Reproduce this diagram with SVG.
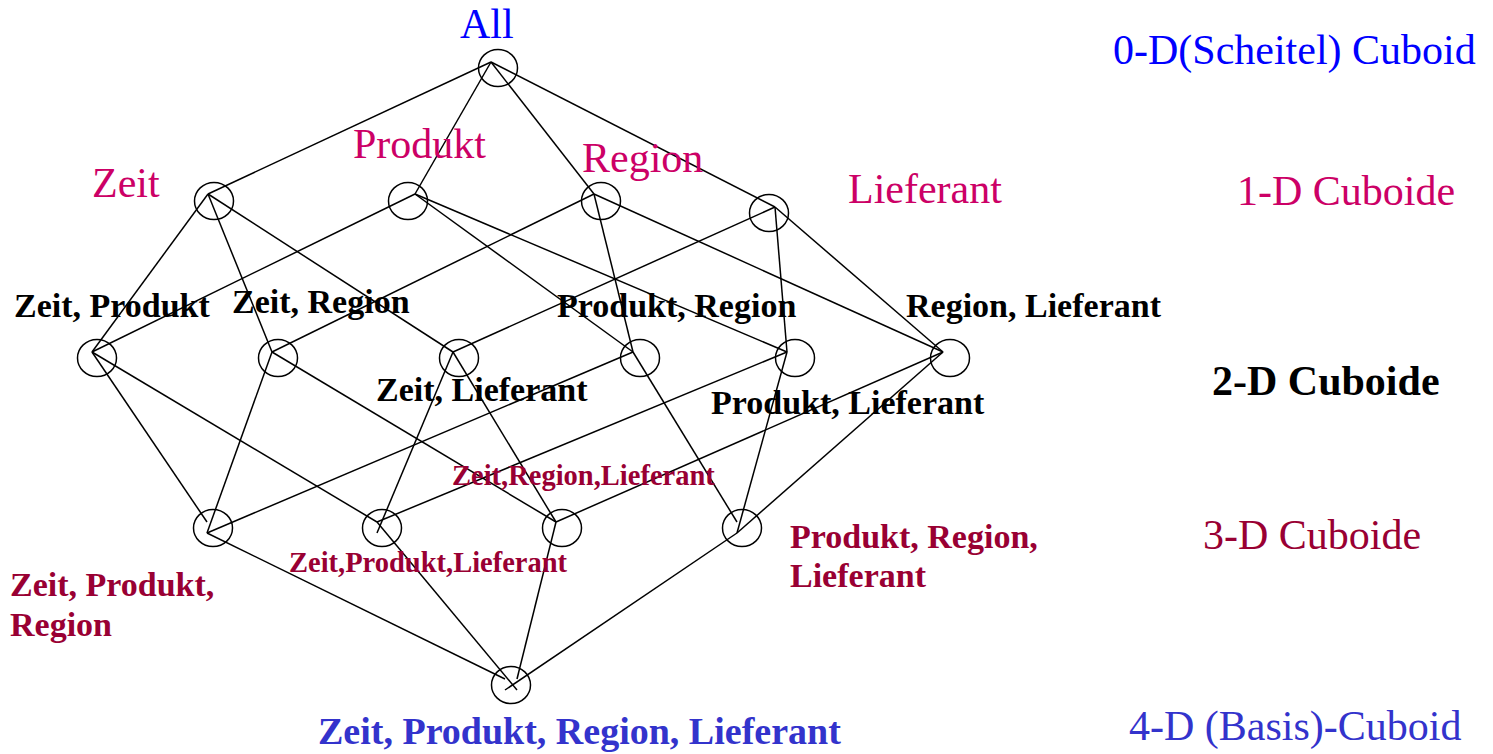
<svg xmlns="http://www.w3.org/2000/svg" width="1493" height="754" viewBox="0 0 1493 754">
<style>
  .c { fill: none; stroke: #000; stroke-width: 1.5; }
  .e line { stroke: #000; stroke-width: 1.5; }
  text { font-family: "Liberation Serif", "Times New Roman", serif; }
  .t1 { font-size: 42px; fill: #CC0066; }
  .t2 { font-size: 34px; font-weight: bold; fill: #000; }
  .t3 { font-size: 28.5px; font-weight: bold; fill: #990033; }
  .t3b { font-size: 34px; font-weight: bold; fill: #990033; }
  .lv { font-size: 42px; }
</style>
<rect width="1493" height="754" fill="#fff"/>
<g id="connectors" class="e">
  <!-- All to 1-D -->
  <line x1="491" y1="62" x2="208" y2="194"/>
  <line x1="491" y1="62" x2="415" y2="194"/>
  <line x1="491" y1="62" x2="594" y2="194"/>
  <line x1="491" y1="62" x2="775" y2="207"/>
  <!-- 1-D to 2-D -->
  <line x1="208" y1="194" x2="92" y2="352"/>
  <line x1="208" y1="194" x2="272" y2="352"/>
  <line x1="208" y1="194" x2="453" y2="352"/>
  <line x1="415" y1="194" x2="92" y2="352"/>
  <line x1="415" y1="194" x2="633" y2="352"/>
  <line x1="415" y1="194" x2="787" y2="352"/>
  <line x1="594" y1="194" x2="272" y2="352"/>
  <line x1="594" y1="194" x2="633" y2="352"/>
  <line x1="594" y1="194" x2="943" y2="352"/>
  <line x1="775" y1="207" x2="453" y2="352"/>
  <line x1="775" y1="207" x2="787" y2="352"/>
  <line x1="775" y1="207" x2="943" y2="352"/>
  <!-- 2-D to 3-D -->
  <line x1="92" y1="352" x2="207" y2="522"/>
  <line x1="92" y1="352" x2="377" y2="522"/>
  <line x1="272" y1="352" x2="207" y2="533"/>
  <line x1="272" y1="352" x2="556" y2="522"/>
  <line x1="453" y1="352" x2="377" y2="533"/>
  <line x1="453" y1="352" x2="556" y2="522"/>
  <line x1="633" y1="352" x2="207" y2="533"/>
  <line x1="633" y1="352" x2="737" y2="522"/>
  <line x1="787" y1="352" x2="377" y2="522"/>
  <line x1="787" y1="352" x2="737" y2="533"/>
  <line x1="943" y1="352" x2="556" y2="522"/>
  <line x1="943" y1="352" x2="737" y2="533"/>
  <!-- 3-D to 4-D -->
  <line x1="207" y1="533" x2="505" y2="679"/>
  <line x1="377" y1="522" x2="517" y2="690"/>
  <line x1="556" y1="522" x2="517" y2="679"/>
  <line x1="737" y1="533" x2="505" y2="690"/>
</g>
<g id="node-all">
  <ellipse class="c" cx="498" cy="68" rx="19.5" ry="18.5"/>
  <text x="460" y="38" class="lv" fill="#0000FF">All</text>
</g>
<g id="node-zeit">
  <ellipse class="c" cx="214" cy="201" rx="19.5" ry="18.5"/>
  <text x="92" y="197" class="t1">Zeit</text>
</g>
<g id="node-produkt">
  <ellipse class="c" cx="408" cy="201" rx="19.5" ry="18.5"/>
  <text x="353" y="158" class="t1">Produkt</text>
</g>
<g id="node-region">
  <ellipse class="c" cx="601" cy="201" rx="19.5" ry="18.5"/>
  <text x="582" y="172" class="t1">Region</text>
</g>
<g id="node-lieferant">
  <ellipse class="c" cx="769" cy="213" rx="19.5" ry="18.5"/>
  <text x="848" y="203" class="t1">Lieferant</text>
</g>
<g id="node-zeit-produkt">
  <ellipse class="c" cx="97" cy="358" rx="19.5" ry="18.5"/>
  <text x="14" y="317" class="t2">Zeit, Produkt</text>
</g>
<g id="node-zeit-region">
  <ellipse class="c" cx="278" cy="358" rx="19.5" ry="18.5"/>
  <text x="232" y="313" class="t2">Zeit, Region</text>
</g>
<g id="node-zeit-lieferant">
  <ellipse class="c" cx="459" cy="358" rx="19.5" ry="18.5"/>
  <text x="376" y="401" class="t2">Zeit, Lieferant</text>
</g>
<g id="node-produkt-region">
  <ellipse class="c" cx="640" cy="358" rx="19.5" ry="18.5"/>
  <text x="557" y="317" class="t2">Produkt, Region</text>
</g>
<g id="node-produkt-lieferant">
  <ellipse class="c" cx="795" cy="358" rx="19.5" ry="18.5"/>
  <text x="711" y="414" class="t2">Produkt, Lieferant</text>
</g>
<g id="node-region-lieferant">
  <ellipse class="c" cx="950" cy="358" rx="19.5" ry="18.5"/>
  <text x="906" y="317" class="t2">Region, Lieferant</text>
</g>
<g id="node-zeit-produkt-region">
  <ellipse class="c" cx="213" cy="528" rx="19.5" ry="18.5"/>
  <text x="10" y="596" class="t3b">Zeit, Produkt,</text>
  <text x="10" y="636" class="t3b">Region</text>
</g>
<g id="node-zeit-produkt-lieferant">
  <ellipse class="c" cx="382" cy="528" rx="19.5" ry="18.5"/>
  <text x="289" y="572" class="t3">Zeit,Produkt,Lieferant</text>
</g>
<g id="node-zeit-region-lieferant">
  <ellipse class="c" cx="562" cy="528" rx="19.5" ry="18.5"/>
  <text x="452" y="485" class="t3">Zeit,Region,Lieferant</text>
</g>
<g id="node-produkt-region-lieferant">
  <ellipse class="c" cx="742" cy="528" rx="19.5" ry="18.5"/>
  <text x="790" y="548" class="t3b">Produkt, Region,</text>
  <text x="790" y="587" class="t3b">Lieferant</text>
</g>
<g id="node-base">
  <ellipse class="c" cx="511" cy="685" rx="19.5" ry="18.5"/>
  <text x="318" y="744" font-size="38" font-weight="bold" fill="#3333CC">Zeit, Produkt, Region, Lieferant</text>
</g>
<g id="levels">
  <text x="1113" y="64" class="lv" fill="#0000FF">0-D(Scheitel) Cuboid</text>
  <text x="1237" y="205" class="lv" fill="#CC0066">1-D Cuboide</text>
  <text x="1212" y="395" class="lv" fill="#000" font-weight="bold">2-D Cuboide</text>
  <text x="1203" y="549" class="lv" fill="#990033">3-D Cuboide</text>
  <text x="1129" y="740" class="lv" fill="#3333CC">4-D (Basis)-Cuboid</text>
</g>
</svg>
